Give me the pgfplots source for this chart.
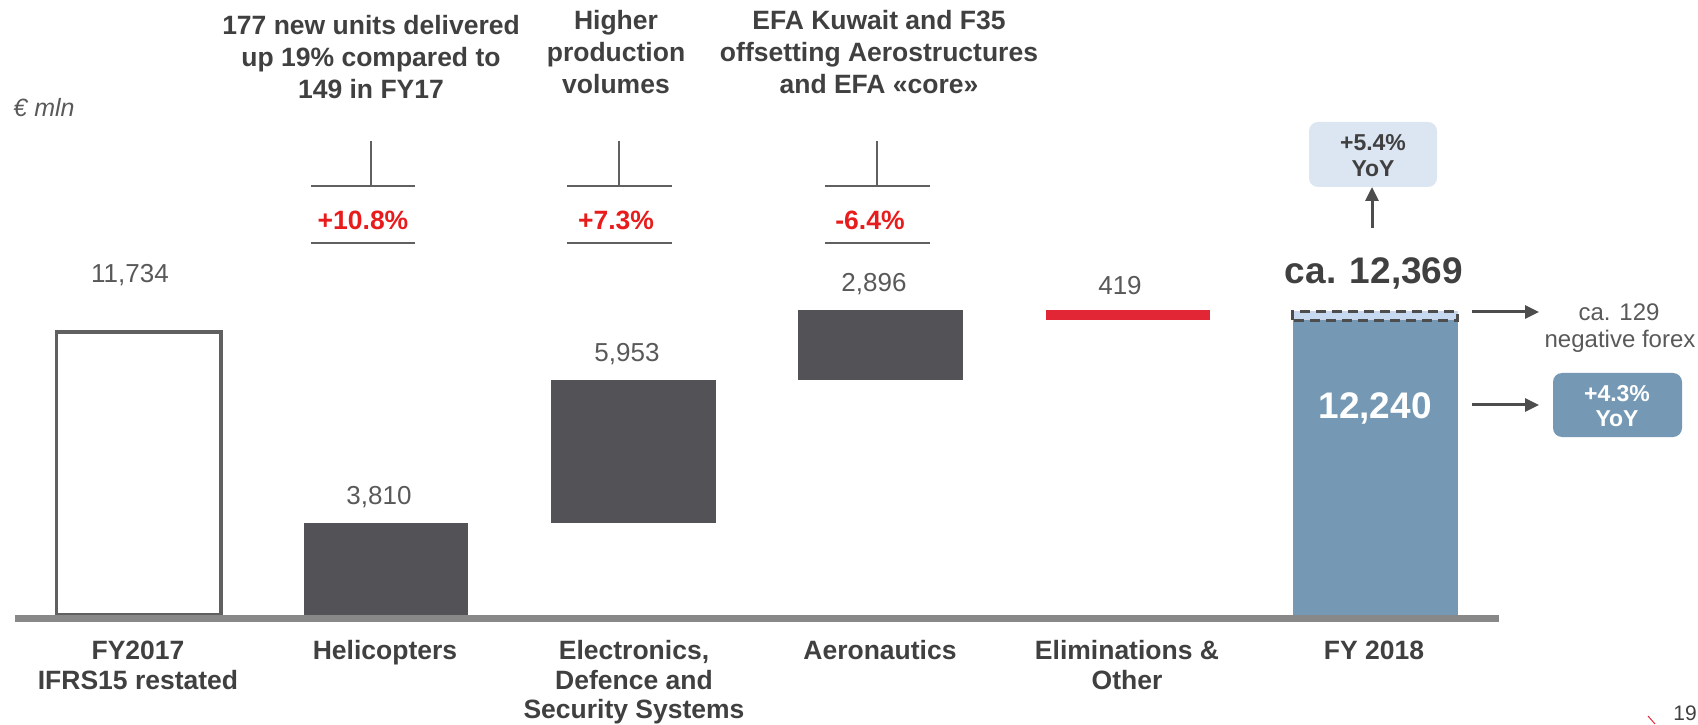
\documentclass[border=0pt]{standalone}
\usepackage{pgfplots}
\pgfplotsset{compat=1.18}
\usepackage{fontspec}
\setmainfont{Liberation Sans}
\usetikzlibrary{arrows.meta}
\definecolor{txt}{RGB}{64,64,64}
\definecolor{valtxt}{RGB}{89,89,89}
\definecolor{darkbar}{RGB}{83,82,87}
\definecolor{redbar}{RGB}{227,38,54}
\definecolor{redtxt}{RGB}{232,28,28}
\definecolor{bluebar}{RGB}{117,153,180}
\definecolor{lightblue}{RGB}{198,217,240}
\definecolor{boxlight}{RGB}{220,230,242}
\definecolor{basegray}{RGB}{136,136,136}
\definecolor{linegray}{RGB}{96,96,96}
\definecolor{arrowgray}{RGB}{77,77,77}
% x, y-centre (image px from top), size, style, colour, text
\newcommand\lab[6]{\node[anchor=base,inner sep=0pt,text=#5,font={\fontsize{#3}{#3}\selectfont#4}] at (#1,{724-#2-0.358*#3}) {#6};}
\begin{document}
\begin{tikzpicture}
\useasboundingbox (0,0) rectangle (1698pt,724pt);
\begin{axis}[at={(15pt,109pt)}, anchor=south west, scale only axis,
  width=1484pt, height=615pt, xmin=-0.5, xmax=5.5, ymin=0, ymax=25519,
  hide axis, clip=false]
% FY2017 IFRS15 restated: 0 -> 11734
\addplot[fill=white, draw=linegray, line width=3.5pt] coordinates {(-0.333,0) (-0.333,11734) (0.333,11734) (0.333,0)} -- cycle;
% Helicopters: 0 -> 3810
\addplot[fill=darkbar, draw=none] coordinates {(0.667,0) (0.667,3810) (1.333,3810) (1.333,0)} -- cycle;
% Electronics, Defence and Security Systems: 3810 -> 9763
\addplot[fill=darkbar, draw=none] coordinates {(1.667,3810) (1.667,9763) (2.333,9763) (2.333,3810)} -- cycle;
% Aeronautics: 9763 -> 12659
\addplot[fill=darkbar, draw=none] coordinates {(2.667,9763) (2.667,12659) (3.333,12659) (3.333,9763)} -- cycle;
% Eliminations & Other: 12659 -> 12240
\addplot[fill=redbar, draw=none] coordinates {(3.667,12240) (3.667,12659) (4.333,12659) (4.333,12240)} -- cycle;
% FY 2018: 0 -> 12240
\addplot[fill=bluebar, draw=none] coordinates {(4.667,0) (4.667,12240) (5.333,12240) (5.333,0)} -- cycle;
% negative forex top (drawn as in the picture)
\addplot[fill=lightblue, draw=arrowgray, line width=3pt, dash pattern=on 10pt off 6pt] coordinates {(4.667,12240) (4.667,12600) (5.333,12600) (5.333,12240)} -- cycle;
\draw[basegray, line width=7pt] ([yshift=-3.5pt]axis cs:-0.5,0) -- ([yshift=-3.5pt]axis cs:5.5,0);
\end{axis}
\begin{scope}[x=1pt,y=1pt]
% annotations top
\lab{371}{25}{26.5}{\bfseries}{txt}{177 new units delivered}
\lab{371}{57}{26.5}{\bfseries}{txt}{up 19\% compared to}
\lab{371}{89}{26.5}{\bfseries}{txt}{149 in FY17}
\lab{616}{20}{26.5}{\bfseries}{txt}{Higher}
\lab{616}{52}{26.5}{\bfseries}{txt}{production}
\lab{616}{84}{26.5}{\bfseries}{txt}{volumes}
\lab{879}{20}{26.5}{\bfseries}{txt}{EFA Kuwait and F35}
\lab{879}{52}{26.5}{\bfseries}{txt}{offsetting Aerostructures}
\lab{879}{84}{26.5}{\bfseries}{txt}{and EFA «core»}
\lab{44}{108}{25}{\itshape}{valtxt}{€ mln}
% brackets
\draw[linegray, line width=2pt] (371,{724-141}) -- (371,{724-186});
\draw[linegray, line width=2pt] (619,{724-141}) -- (619,{724-186});
\draw[linegray, line width=2pt] (877,{724-141}) -- (877,{724-186});
\draw[linegray, line width=2.5pt] (311,{724-186}) -- (415,{724-186});
\draw[linegray, line width=2.5pt] (567,{724-186}) -- (672,{724-186});
\draw[linegray, line width=2.5pt] (825,{724-186}) -- (930,{724-186});
\draw[linegray, line width=2.5pt] (311,{724-243}) -- (415,{724-243});
\draw[linegray, line width=2.5pt] (567,{724-243}) -- (672,{724-243});
\draw[linegray, line width=2.5pt] (825,{724-243}) -- (930,{724-243});
\lab{363}{220}{26.5}{\bfseries}{redtxt}{+10.8\%}
\lab{616}{220}{26.5}{\bfseries}{redtxt}{+7.3\%}
\lab{870}{220}{26.5}{\bfseries}{redtxt}{-6.4\%}
% values
\lab{130}{273}{26}{}{valtxt}{11,734}
\lab{379}{495}{26}{}{valtxt}{3,810}
\lab{627}{352}{26}{}{valtxt}{5,953}
\lab{874}{282}{26}{}{valtxt}{2,896}
\lab{1120}{285}{26}{}{valtxt}{419}
\lab{1374}{270}{37}{\bfseries}{txt}{ca. 12,369}
\lab{1375}{405}{37}{\bfseries}{white}{12,240}
% right side boxes and arrows
\fill[boxlight, rounded corners=9pt] (1309,{724-187}) rectangle (1437,{724-122});
\lab{1373}{142}{23}{\bfseries}{txt}{+5.4\%}
\lab{1373}{168}{23}{\bfseries}{txt}{YoY}
\fill[bluebar, rounded corners=9pt] (1553,{724-437}) rectangle (1682,{724-373});
\lab{1617}{393}{23}{\bfseries}{white}{+4.3\%}
\lab{1617}{418}{23}{\bfseries}{white}{YoY}
\draw[arrowgray, line width=3pt, -{Triangle[length=14pt,width=13pt]}] (1372,{724-228}) -- (1372,{724-187});
\draw[arrowgray, line width=3pt, -{Triangle[length=14pt,width=13pt]}] (1472,{724-312}) -- (1539,{724-312});
\draw[arrowgray, line width=3pt, -{Triangle[length=14pt,width=13pt]}] (1472,{724-405}) -- (1539,{724-405});
\lab{1619}{312}{24}{}{valtxt}{ca. 129}
\lab{1620}{339}{24}{}{valtxt}{negative forex}
% category labels
\lab{138}{650}{26.5}{\bfseries}{txt}{FY2017}
\lab{138}{680}{26.5}{\bfseries}{txt}{IFRS15 restated}
\lab{385}{650}{26.5}{\bfseries}{txt}{Helicopters}
\lab{634}{650}{26.5}{\bfseries}{txt}{Electronics,}
\lab{634}{680}{26.5}{\bfseries}{txt}{Defence and}
\lab{634}{709}{26.5}{\bfseries}{txt}{Security Systems}
\lab{880}{650}{26.5}{\bfseries}{txt}{Aeronautics}
\lab{1127}{650}{26.5}{\bfseries}{txt}{Eliminations \&}
\lab{1127}{680}{26.5}{\bfseries}{txt}{Other}
\lab{1374}{650}{26.5}{\bfseries}{txt}{FY 2018}
% page number
\draw[redbar, line width=1pt] (1648,{724-716}) -- (1655,{724-724});
\lab{1685}{713}{21}{}{txt}{19}
\end{scope}
\end{tikzpicture}
\end{document}
